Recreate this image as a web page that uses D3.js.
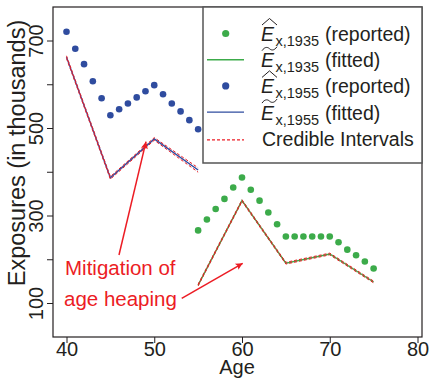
<!DOCTYPE html>
<html>
<head>
<meta charset="utf-8">
<script src="https://cdn.jsdelivr.net/npm/d3@7"></script>
<style>
  body { margin: 0; background: #fff; }
  svg { font-family: "Liberation Sans", Arial, sans-serif; }
</style>
</head>
<body>
<div id="chart"></div>
<script>
// reported exposures (thousands), single ages
const ages1955 = [40, 41, 42, 43, 44, 45, 46, 47, 48, 49, 50, 51, 52, 53, 54, 55];
const reported1955 = [720, 681, 646, 607, 568, 529, 543, 556, 570, 584, 598, 577, 556, 538, 518, 497];
const ages1935 = [55, 56, 57, 58, 59, 60, 61, 62, 63, 64, 65, 66, 67, 68, 69, 70, 71, 72, 73, 74, 75];
const reported1935 = [266, 291, 315, 338, 364, 387, 359, 334, 307, 280, 252, 252, 252, 252, 252, 252, 239, 222, 209, 195, 179];

// fitted exposures at 5-year knots, with credible intervals
const fitAges1955 = [40, 45, 50, 55];
const fitted1955 = [662, 386, 475, 404];
const lower1955 = [659, 383, 472, 399];
const upper1955 = [665, 389, 478, 409];
const fitAges1935 = [55, 60, 65, 70, 75];
const fitted1935 = [141, 334, 191, 212, 148];
const lower1935 = [139, 332, 189, 210, 146];
const upper1935 = [143, 336, 193, 214, 150];

const xTicks = [40, 50, 60, 70, 80];
const yTicks = [100, 200, 300, 400, 500, 600, 700];
const yLabels = [100, 300, 500, 700];

const green = "#3cab4a", blue = "#2f4c9f", red = "#ec1c24", ink = "#231f20";

const W = 429, H = 380;
const box = { left: 53, right: 422, top: 7, bottom: 337 };

const svg = d3.select("#chart").append("svg")
  .attr("width", W)
  .attr("height", H);

const x = d3.scaleLinear().domain([40, 80]).range([66.5, 417.5]);
const y = d3.scaleLinear().domain([100, 700]).range([303, 40.5]);

// axes
const xAxis = svg.append("g")
  .attr("transform", `translate(0,${box.bottom})`)
  .call(d3.axisBottom(x).tickValues(xTicks).tickSize(6));
xAxis.select(".domain").remove();
xAxis.selectAll("text")
  .attr("font-size", 20).attr("fill", ink).attr("font-family", null)
  .attr("y", 5);
xAxis.selectAll("line").attr("stroke", ink);

const yAxis = svg.append("g")
  .attr("transform", `translate(${box.left},0)`)
  .call(d3.axisLeft(y).tickValues(yTicks).tickSize(6)
    .tickFormat(d => yLabels.includes(d) ? d : ""));
yAxis.select(".domain").remove();
yAxis.selectAll("line").attr("stroke", ink);
yAxis.selectAll("text")
  .attr("font-size", 20).attr("fill", ink).attr("font-family", null)
  .attr("x", 0).attr("y", -10).attr("dy", 0)
  .attr("text-anchor", "middle")
  .attr("transform", "rotate(-90)");

svg.append("text")
  .attr("x", 237).attr("y", 374)
  .attr("text-anchor", "middle")
  .attr("font-size", 20).attr("fill", ink)
  .text("Age");

svg.append("text")
  .attr("transform", "translate(25,153) rotate(-90)")
  .attr("text-anchor", "middle")
  .attr("font-size", 23.5).attr("fill", ink)
  .text("Exposures (in thousands)");

// series
const line = d3.line().x(d => x(d[0])).y(d => y(d[1]));

svg.selectAll(".p55").data(d3.zip(ages1955, reported1955)).enter()
  .append("circle")
  .attr("cx", d => x(d[0])).attr("cy", d => y(d[1]))
  .attr("r", 3.3).attr("fill", blue);

svg.selectAll(".p35").data(d3.zip(ages1935, reported1935)).enter()
  .append("circle")
  .attr("cx", d => x(d[0])).attr("cy", d => y(d[1]))
  .attr("r", 3.3).attr("fill", green);

svg.append("path").datum(d3.zip(fitAges1955, fitted1955))
  .attr("d", line).attr("fill", "none").attr("stroke", blue).attr("stroke-width", 1.4);
svg.append("path").datum(d3.zip(fitAges1935, fitted1935))
  .attr("d", line).attr("fill", "none").attr("stroke", green).attr("stroke-width", 1.4);

[[fitAges1955, lower1955], [fitAges1955, upper1955], [fitAges1935, lower1935], [fitAges1935, upper1935]]
  .forEach(([a, v]) => {
    svg.append("path").datum(d3.zip(a, v))
      .attr("d", line).attr("fill", "none")
      .attr("stroke", red).attr("stroke-width", 1)
      .attr("stroke-dasharray", "3,2");
  });

// annotation
svg.append("defs").append("marker")
  .attr("id", "arrow")
  .attr("viewBox", "0 0 10 10")
  .attr("refX", 10).attr("refY", 5)
  .attr("markerWidth", 9).attr("markerHeight", 7)
  .attr("markerUnits", "userSpaceOnUse")
  .attr("orient", "auto")
  .append("path").attr("d", "M0,0L10,5L0,10L2,5Z").attr("fill", red);

const arrows = [
  [[45.98, 209.7], [49.06, 468.7]],
  [[53.13, 110.7], [60.08, 190.7]]
];
arrows.forEach(([a, b]) => {
  svg.append("line")
    .attr("x1", x(a[0])).attr("y1", y(a[1]))
    .attr("x2", x(b[0])).attr("y2", y(b[1]))
    .attr("stroke", red).attr("stroke-width", 1.5)
    .attr("marker-end", "url(#arrow)");
});

svg.append("text")
  .attr("x", 65).attr("y", 275)
  .attr("font-size", 20.5).attr("fill", red)
  .text("Mitigation of");
svg.append("text")
  .attr("x", 64).attr("y", 306)
  .attr("font-size", 20.5).attr("fill", red)
  .text("age heaping");

// plot box
svg.append("rect")
  .attr("x", box.left).attr("y", box.top)
  .attr("width", box.right - box.left).attr("height", box.bottom - box.top)
  .attr("fill", "none").attr("stroke", ink).attr("stroke-width", 1.2);

// legend
const lg = svg.append("g");
lg.append("rect")
  .attr("x", 203).attr("y", 7).attr("width", 219).attr("height", 156)
  .attr("fill", "#fff").attr("stroke", "#555").attr("stroke-width", 1.5);

const legendItems = [
  { kind: "dot", color: green, mark: "hat", cohort: "1935", label: "(reported)" },
  { kind: "line", color: green, mark: "tilde", cohort: "1935", label: "(fitted)" },
  { kind: "dot", color: blue, mark: "hat", cohort: "1955", label: "(reported)" },
  { kind: "line", color: blue, mark: "tilde", cohort: "1955", label: "(fitted)" },
  { kind: "dash", color: red, label: "Credible Intervals" }
];

legendItems.forEach((it, i) => {
  const base = 41 + i * 26.2;
  const sy = it.kind === "dash" ? base - 6 : base - 7.5;
  if (it.kind === "dot") {
    lg.append("circle").attr("cx", 225.7).attr("cy", sy).attr("r", 3.6).attr("fill", it.color);
  } else {
    lg.append("line").attr("x1", 207).attr("x2", 244).attr("y1", sy).attr("y2", sy)
      .attr("stroke", it.color).attr("stroke-width", it.kind === "dash" ? 1.2 : 1.4)
      .attr("stroke-dasharray", it.kind === "dash" ? "3,2" : null);
  }
  if (!it.mark) {
    lg.append("text").attr("x", 262).attr("y", base)
      .attr("font-size", 19.5).attr("fill", ink).text(it.label);
    return;
  }
  const t = lg.append("text").attr("x", 261).attr("y", base).attr("fill", ink);
  t.append("tspan").attr("font-size", 19.5).attr("font-style", "italic").text("E");
  t.append("tspan").attr("font-size", 14.5).attr("dy", 5).attr("dx", 1.5).text("x," + it.cohort);
  lg.append("text").attr("x", 325).attr("y", base)
    .attr("font-size", 19.5).attr("fill", ink).text(it.label);
  if (it.mark === "hat") {
    lg.append("path")
      .attr("d", `M262,${base - 16}L269.5,${base - 22.5}L277,${base - 16}`)
      .attr("fill", "none").attr("stroke", ink).attr("stroke-width", 1);
  } else {
    lg.append("path")
      .attr("d", `M262,${base - 16.5}C265,${base - 21} 268,${base - 20} 269.5,${base - 18.5}S274,${base - 16} 277,${base - 20.5}`)
      .attr("fill", "none").attr("stroke", ink).attr("stroke-width", 1);
  }
});
</script>
</body>
</html>
